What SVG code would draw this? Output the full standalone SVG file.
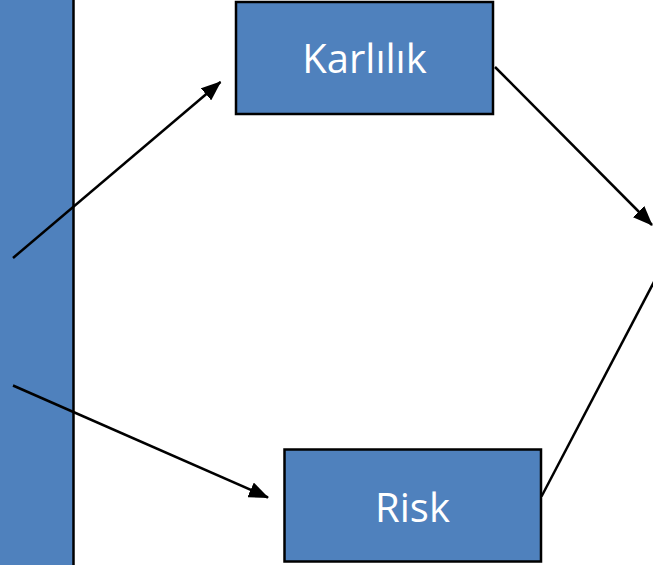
<svg xmlns="http://www.w3.org/2000/svg" width="653" height="565" viewBox="0 0 653 565">
<style>
.box{fill:#4F81BD;stroke:#000;stroke-width:2.5}
.lbl{font-family:"Open Sans","Liberation Sans",sans-serif;font-size:40px;fill:#fff;text-anchor:middle}
.con{stroke:#000;stroke-width:2.5;fill:none}
</style>
<defs>
<marker id="ah" markerUnits="userSpaceOnUse" markerWidth="20" markerHeight="16" refX="19" refY="8" orient="auto">
<path d="M0,0 L20,8 L0,16 Z" fill="#000"/>
</marker>
</defs>
<rect width="653" height="565" fill="#fff"/>
<g id="bar">
<rect x="-2" y="-2" width="75.5" height="570" class="box"/>
</g>
<g id="karlilik">
<rect x="236" y="2" width="257" height="112" class="box"/>
<text x="364.5" y="73" class="lbl">Karlılık</text>
</g>
<g id="risk">
<rect x="284.5" y="449.5" width="256.5" height="112" class="box"/>
<text x="412.5" y="522" class="lbl">Risk</text>
</g>
<g id="connectors">
<line x1="13" y1="258" x2="220.5" y2="82" class="con" marker-end="url(#ah)"/>
<line x1="13" y1="385.5" x2="268" y2="497.5" class="con" marker-end="url(#ah)"/>
<line x1="495" y1="67" x2="652" y2="225" class="con" marker-end="url(#ah)"/>
<line x1="541.5" y1="496.5" x2="655" y2="280" class="con"/>
</g>
</svg>
